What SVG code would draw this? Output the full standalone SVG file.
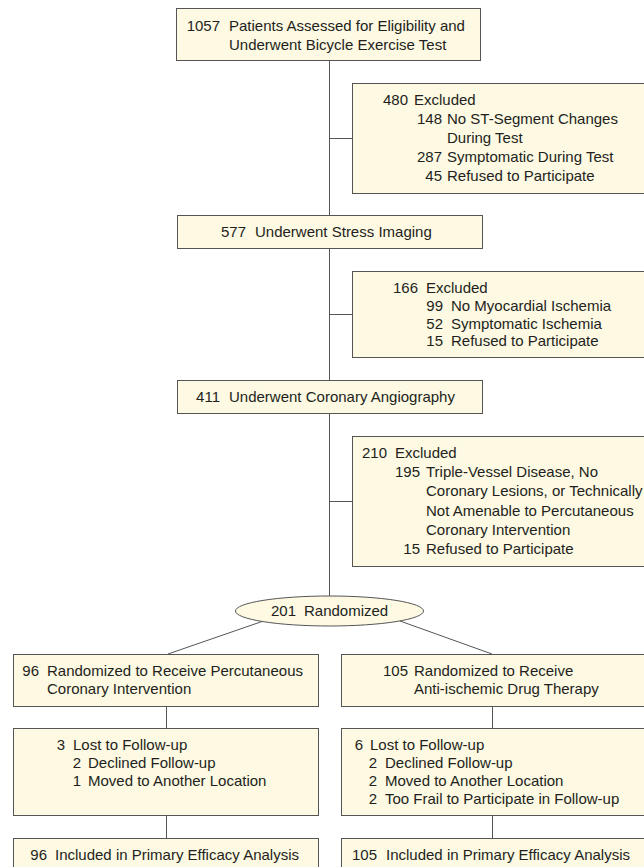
<svg xmlns="http://www.w3.org/2000/svg" width="644" height="867" viewBox="0 0 644 867">
<style>
.box{fill:#FDF9E3;stroke:#555;stroke-width:1}
.ln{stroke:#555;stroke-width:1;fill:none}
text{font-family:"Liberation Sans",Arial,sans-serif;font-size:15px;fill:#231F20}
.n{text-anchor:end}
</style>
<rect width="644" height="867" fill="#fff"/>
<g id="connectors">
<path class="ln" d="M329.5 60V215M329.5 248V380M329.5 413V596M329.5 138.5H352M329.5 314.5H352M329.5 501.5H352"/>
<path class="ln" d="M262 621.5L168 654M400 621L492 654"/>
<path class="ln" d="M166.5 706V728M166.5 815V838M492.5 706V728M492.5 815V838"/>
</g>
<g id="assessed">
<rect class="box" x="176.5" y="8.5" width="304" height="52"/>
<text class="n" x="220" y="31">1057</text><text x="229" y="31">Patients Assessed for Eligibility and</text>
<text x="229" y="50">Underwent Bicycle Exercise Test</text>
</g>
<g id="excluded480">
<rect class="box" x="352.5" y="83.5" width="300" height="110"/>
<text class="n" x="408" y="105">480</text><text x="414" y="105">Excluded</text>
<text class="n" x="442" y="124">148</text><text x="447" y="124">No ST-Segment Changes</text>
<text x="447" y="143">During Test</text>
<text class="n" x="442" y="162">287</text><text x="447" y="162">Symptomatic During Test</text>
<text class="n" x="442" y="181">45</text><text x="447" y="181">Refused to Participate</text>
</g>
<g id="stress">
<rect class="box" x="177.5" y="215.5" width="305" height="33"/>
<text class="n" x="246" y="237">577</text><text x="255" y="237">Underwent Stress Imaging</text>
</g>
<g id="excluded166">
<rect class="box" x="352.5" y="271.5" width="300" height="86"/>
<text class="n" x="418" y="293">166</text><text x="426" y="293">Excluded</text>
<text class="n" x="443" y="311">99</text><text x="451" y="311">No Myocardial Ischemia</text>
<text class="n" x="443" y="328.5">52</text><text x="451" y="328.5">Symptomatic Ischemia</text>
<text class="n" x="443" y="346">15</text><text x="451" y="346">Refused to Participate</text>
</g>
<g id="angiography">
<rect class="box" x="177.5" y="380.5" width="305" height="33"/>
<text class="n" x="220" y="402">411</text><text x="229" y="402">Underwent Coronary Angiography</text>
</g>
<g id="excluded210">
<rect class="box" x="352.5" y="436.5" width="300" height="130"/>
<text class="n" x="387" y="458">210</text><text x="395" y="458">Excluded</text>
<text class="n" x="420" y="477">195</text><text x="426" y="477">Triple-Vessel Disease, No</text>
<text x="426" y="496">Coronary Lesions, or Technically</text>
<text x="426" y="515.5">Not Amenable to Percutaneous</text>
<text x="426" y="535">Coronary Intervention</text>
<text class="n" x="420" y="554">15</text><text x="426" y="554">Refused to Participate</text>
</g>
<g id="randomized">
<ellipse class="box" cx="329.5" cy="611" rx="94" ry="15"/>
<text class="n" x="296" y="616">201</text><text x="304" y="616">Randomized</text>
</g>
<g id="pci">
<rect class="box" x="13.5" y="654.5" width="305" height="52"/>
<text class="n" x="39" y="676">96</text><text x="47" y="676">Randomized to Receive Percutaneous</text>
<text x="47" y="694">Coronary Intervention</text>
</g>
<g id="drug">
<rect class="box" x="341.5" y="654.5" width="310" height="52"/>
<text class="n" x="408" y="676">105</text><text x="414" y="676">Randomized to Receive</text>
<text x="414" y="694">Anti-ischemic Drug Therapy</text>
</g>
<g id="lostPci">
<rect class="box" x="13.5" y="728.5" width="305" height="87"/>
<text class="n" x="65" y="750">3</text><text x="73" y="750">Lost to Follow-up</text>
<text class="n" x="81" y="768">2</text><text x="88" y="768">Declined Follow-up</text>
<text class="n" x="81" y="786">1</text><text x="88" y="786">Moved to Another Location</text>
</g>
<g id="lostDrug">
<rect class="box" x="341.5" y="728.5" width="310" height="87"/>
<text class="n" x="363" y="750">6</text><text x="370" y="750">Lost to Follow-up</text>
<text class="n" x="377" y="768">2</text><text x="385" y="768">Declined Follow-up</text>
<text class="n" x="377" y="786">2</text><text x="385" y="786">Moved to Another Location</text>
<text class="n" x="377" y="804">2</text><text x="385" y="804">Too Frail to Participate in Follow-up</text>
</g>
<g id="analysisPci">
<rect class="box" x="13.5" y="838.5" width="305" height="40"/>
<text class="n" x="47" y="860">96</text><text x="55" y="860">Included in Primary Efficacy Analysis</text>
</g>
<g id="analysisDrug">
<rect class="box" x="341.5" y="838.5" width="310" height="40"/>
<text class="n" x="377" y="860">105</text><text x="386" y="860">Included in Primary Efficacy Analysis</text>
</g>
</svg>
